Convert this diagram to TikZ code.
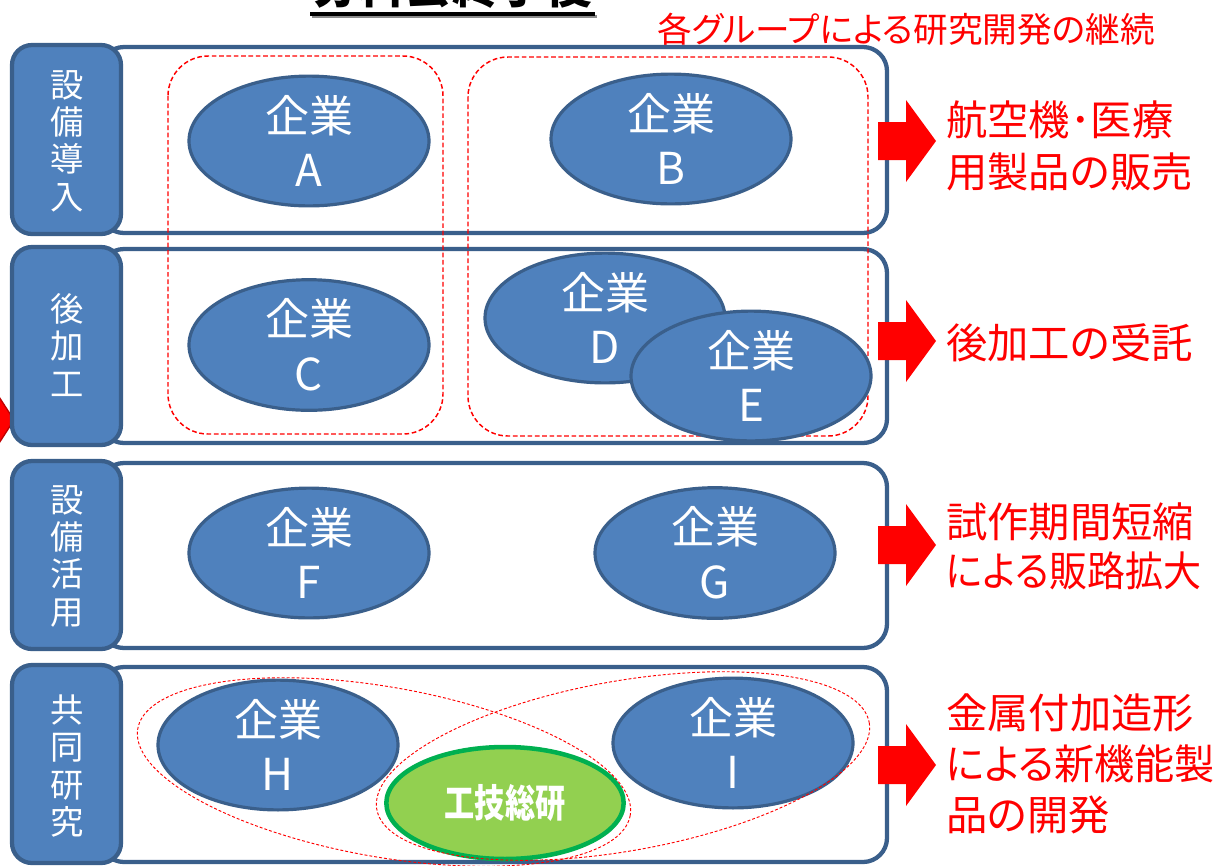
\documentclass[tikz,border=0pt]{standalone}
\usepackage{fontspec}
\setmainfont{Noto Sans CJK JP}
\newfontfamily\jp{Noto Sans CJK JP}
\newfontfamily\jpp[RawFeature=+palt]{Noto Sans CJK JP}
\usetikzlibrary{shapes.geometric}
\definecolor{bfill}{HTML}{4F81BD}
\definecolor{bdraw}{HTML}{3A5F8B}
\definecolor{gfill}{HTML}{92D050}
\definecolor{gdraw}{HTML}{00B050}
\definecolor{dred}{HTML}{C00000}
\tikzset{
  rowbox/.style={draw=bdraw, fill=white, line width=3.2pt, rounded corners=18pt},
  labbox/.style={draw=bdraw, fill=bfill, line width=3.2pt, rounded corners=15pt},
  labtext/.style={text=white, align=center, inner sep=0pt, font=\jp\fontsize{25}{28}\selectfont},
  comp/.style={ellipse, draw=bdraw, fill=bfill, line width=2.4pt, minimum width=180pt, minimum height=74pt, inner sep=0pt, text=white, align=center, font=\jp\fontsize{33}{41}\selectfont},
  grp/.style={draw=red, line width=1.1pt, dash pattern=on 3.5pt off 2pt},
  grpe/.style={draw=red, line width=0.7pt, dash pattern=on 2.2pt off 1.5pt},
  redtext/.style={text=red, align=left, anchor=west, inner sep=0pt, font=\jpp\fontsize{31}{38.5}\selectfont},
}
\begin{document}
\begin{tikzpicture}[x=0.75pt,y=-0.75pt]
\useasboundingbox (0,0) rectangle (1219,865);
\clip (0,0) rectangle (1219,865);
% title (cut off at top)
\node[text=black, font=\jp\fontsize{35}{35}\selectfont\bfseries] (title) at (452,-14) {分科会終了後};
\draw[black!45, line width=2.4pt] (312,16.5) -- (597,16.5);
\draw[black, line width=2.4pt] (310,14) -- (595,14);
\node[text=red, anchor=west, inner sep=0pt, font=\jpp\fontsize{26}{26}\selectfont] (grouptext) at (657,29) {各グループによる研究開発の継続};
% left cut-off arrow
\draw[fill=red, draw=dred, line width=1pt] (-8,386) -- (14,420) -- (-8,454) -- cycle;
% row boxes
\draw[rowbox] (100,47) rectangle (887,233);
\draw[rowbox] (100,249) rectangle (887,443);
\draw[rowbox] (100,463) rectangle (887,648);
\draw[rowbox] (100,667) rectangle (887,862);
% label boxes
\draw[labbox] (12,45) rectangle (121,234);
\draw[labbox] (12,247) rectangle (121,445);
\draw[labbox] (12,461) rectangle (121,649);
\draw[labbox] (12,665) rectangle (121,863);
\node[labtext] (l1) at (67,141) {設\\備\\導\\入};
\node[labtext] (l2) at (67,345) {後\\加\\工};
\node[labtext] (l3) at (67,556) {設\\備\\活\\用};
\node[labtext] (l4) at (67,766) {共\\同\\研\\究};
% group dashed boxes
\draw[grp, rounded corners=30pt] (168,56) rectangle (443,434);
\draw[grp, rounded corners=30pt] (468,57) rectangle (868,436);
% companies
\node[comp] (A) at (309,141) {企業\\A};
\node[comp] (B) at (671,139) {企業\\B};
\node[comp] (C) at (309,345) {企業\\C};
\node[comp, minimum height=85pt] (D) at (605,318) {企業\\D};
\node[comp, minimum height=85pt] (E) at (751,376) {企業\\E};
\node[comp] (F) at (309,553) {企業\\F};
\node[comp] (G) at (715,553) {企業\\G};
\node[comp, minimum height=85pt] (H) at (278,745) {企業\\H};
\node[comp, minimum height=85pt] (I) at (733,743) {企業\\I};
\node[ellipse, draw=gdraw, fill=gfill, line width=3.4pt, minimum width=178pt, minimum height=84pt, inner sep=0pt, text=white, font=\jp\fontsize{29}{29}\selectfont\bfseries] (lab) at (505,803) {\scalebox{0.78}[1]{工技総研}};
% joint research dashed ellipses
\draw[grpe] plot[domain=0:360, samples=181] ({384 + 250*cos(\x)*cos(10) - 85*sin(\x)*sin(10)}, {772 + 250*cos(\x)*sin(10) + 85*sin(\x)*cos(10)}) -- cycle;
\draw[grpe] plot[domain=0:360, samples=181] ({623 + 250*cos(\x)*cos(-10) - 85*sin(\x)*sin(-10)}, {766 + 250*cos(\x)*sin(-10) + 85*sin(\x)*cos(-10)}) -- cycle;
% block arrows
\foreach \cy in {141, 341, 545, 765} {
  \fill[red] (878,\cy-19) -- (906,\cy-19) -- (906,\cy-41) -- (936,\cy) -- (906,\cy+41) -- (906,\cy+19) -- (878,\cy+19) -- cycle;
}
% outcome labels
\node[redtext] (o1) at (946,146) {航空機･医療\\用製品の販売};
\node[redtext] (o2) at (946,343) {後加工の受託};
\node[redtext, font=\jpp\fontsize{31}{37}\selectfont] (o3) at (946,546) {試作期間短縮\\\scalebox{0.92}[1]{による販路拡大}};
\node[redtext] (o4) at (946,764) {金属付加造形\\\scalebox{0.97}[1]{による新機能製}\\品の開発};
\end{tikzpicture}
\end{document}
